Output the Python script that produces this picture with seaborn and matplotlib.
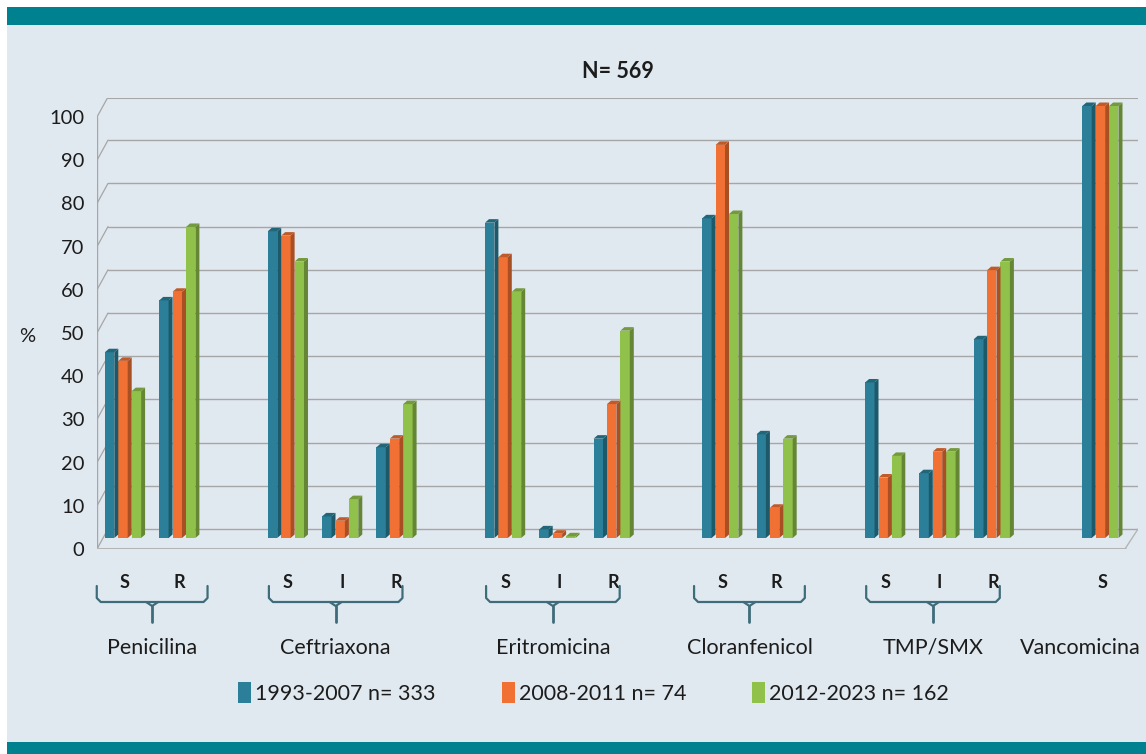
import pandas as pd
import seaborn as sns
import matplotlib.pyplot as plt
from matplotlib.patches import Rectangle, Polygon, Patch
from matplotlib.lines import Line2D
from matplotlib.colors import to_rgb

# antibiotics and their categories (S = sensible, I = intermedio, R = resistente)
antibiotics = ['Penicilina', 'Ceftriaxona', 'Eritromicina',
               'Cloranfenicol', 'TMP/SMX', 'Vancomicina']
categories = [['S', 'R'], ['S', 'I', 'R'], ['S', 'I', 'R'],
              ['S', 'R'], ['S', 'I', 'R'], ['S']]
periods = ['1993-2007 n= 333', '2008-2011 n= 74', '2012-2023 n= 162']

# percentages, in the order of the categories above
p_1993_2007 = [43, 55, 71, 5, 21, 73, 2, 23, 74, 24, 36, 15, 46, 100]
p_2008_2011 = [41, 57, 70, 4, 23, 65, 1, 31, 91, 7, 14, 20, 62, 100]
p_2012_2023 = [34, 72, 64, 9, 31, 57, 0.4, 48, 75, 23, 19, 20, 64, 100]

colors = ['#2b7f98', '#f07133', '#90c14b']
BG = '#e1e9f0'
TEAL = '#00818f'
TXT = '#1c1c1c'
W, H = 1146, 754

sns.set_theme(style='white')
plt.rcParams['font.family'] = ['Lato', 'DejaVu Sans']

# build slot order: one empty slot between antibiotics
order = []
ticklabels = []
rows = []
k = 0
for i, (ab, cats) in enumerate(zip(antibiotics, categories)):
    if i > 0:
        order.append('gap%d' % i)
        ticklabels.append('')
    for c in cats:
        slot = ab + ' ' + c
        order.append(slot)
        ticklabels.append(c)
        for per, vals in zip(periods,
                             [p_1993_2007, p_2008_2011, p_2012_2023]):
            rows.append({'slot': slot, 'period': per, 'pct': vals[k]})
        k += 1
df = pd.DataFrame(rows)

fig = plt.figure(figsize=(W / 100, H / 100), dpi=100)
fig.patch.set_facecolor('white')
# background panel and teal bands
fig.add_artist(Rectangle((7 / W, 0), 1, 1 - 7 / H, transform=fig.transFigure,
                         facecolor=BG, edgecolor='none', zorder=-10))
fig.add_artist(Rectangle((7 / W, 1 - 25 / H), 1, 18 / H,
                         transform=fig.transFigure, facecolor=TEAL,
                         edgecolor='none', zorder=-9))
fig.add_artist(Rectangle((7 / W, 0), 1, 12 / H, transform=fig.transFigure,
                         facecolor=TEAL, edgecolor='none', zorder=-9))

# pixel -> data helpers (slot 0 centred at x=125, value 0 at y=538)
X0, DX = 125, 54.3
Y0, DY = 538, 4.32


def xd(px):
    return (px - X0) / DX


def yd(py):
    return (Y0 - py) / DY


def shade(c, f):
    r, g, b = to_rgb(c)
    return (r * f, g * f, b * f)


ax = fig.add_axes([97 / W, 1 - 549 / H, (1138 - 97) / W, (549 - 98) / H])
ax.set_facecolor('none')

sns.barplot(data=df, x='slot', y='pct', hue='period', order=order,
            hue_order=periods, palette=colors, width=0.74, saturation=1,
            legend=False, ax=ax, zorder=3)

# fake 3-D look: narrower front face, dark side face and top cap
ddx, ddy = 4 / DX, 3.5 / DY
for bars, c in zip(ax.containers, colors):
    for p in bars:
        x, w, h = p.get_x(), p.get_width(), p.get_height()
        wf = w - ddx
        p.set_width(wf)
        p.set_linewidth(0)
        side = Polygon([(x + wf, 0), (x + w, ddy), (x + w, h + ddy),
                        (x + wf, h)], closed=True, facecolor=shade(c, 0.7),
                       edgecolor='none', zorder=3)
        top = Polygon([(x, h), (x + wf, h), (x + w, h + ddy),
                       (x + ddx, h + ddy)], closed=True,
                      facecolor=shade(c, 0.8), edgecolor='none', zorder=3)
        ax.add_patch(side)
        ax.add_patch(top)

ax.set_xlim(xd(97), xd(1138))
ax.set_ylim(yd(549), yd(98))
for s in ax.spines.values():
    s.set_visible(False)

# back-wall gridlines and front axis with diagonal ticks
ticks = list(range(0, 101, 10))
back = 9 / DY
front = -11 / DY
grid_c = '#a6a6a6'
for t in ticks:
    lw = 2.2 if t == 100 else 1.0
    ax.plot([xd(108), xd(1138)], [t + back, t + back], color=grid_c,
            lw=lw, zorder=1)
    ax.plot([xd(97), xd(108)], [t + front, t + back], color=grid_c,
            lw=0.9, zorder=1)
    ax.plot([xd(93), xd(97)], [t + front, t + front], color=grid_c,
            lw=0.9, zorder=1)
ax.plot([xd(97), xd(97)], [front, 100 + front], color=grid_c, lw=1.0)
# floor
ax.plot([xd(97), xd(1125)], [front, front], color='#b5b5b5', lw=2.2,
        zorder=4)
ax.plot([xd(1125), xd(1138)], [front, back], color='#b5b5b5', lw=1.0)

ax.set_yticks([t + front for t in ticks])
ax.set_yticklabels([str(t) for t in ticks], fontsize=14.5, color=TXT)
ax.tick_params(axis='y', length=0, pad=9)
ax.set_xticks(range(len(order)))
ax.set_xticklabels(ticklabels, fontsize=13, fontweight='bold', color=TXT)
ax.tick_params(axis='x', length=0, pad=18)
ax.set_xlabel('')
ax.set_ylabel('')

fig.text(19 / W, 1 - 336 / H, '%', fontsize=14.5, ha='left', va='center',
         color=TXT)
fig.text(618 / W, 1 - 72 / H, 'N= 569', fontsize=15.5, fontweight='bold',
         ha='center', va='center', color=TXT)

# braces under each antibiotic with more than one category
ytop, yend, ymid, ybot = 1 - 586 / H, 1 - 598 / H, 1 - 602 / H, 1 - 622 / H
brace_c = '#3f6c7a'
label_y = 1 - 648 / H
for ab, cats in zip(antibiotics, categories):
    first = order.index(ab + ' ' + cats[0])
    last = order.index(ab + ' ' + cats[-1])
    mid = (first + last) / 2
    if len(cats) == 3:
        mid -= 0.12
        half = 1.23
    else:
        half = 1.02
    left = ax.transData.transform((mid - half, 0))[0] / W
    right = ax.transData.transform((mid + half, 0))[0] / W
    centre = (left + right) / 2
    if len(cats) > 1:
        d = 4 / W
        fig.add_artist(Line2D([left, left, left + d, right - d, right, right],
                              [ytop, yend, ymid, ymid, yend, ytop],
                              color=brace_c, lw=1.6,
                              transform=fig.transFigure))
        fig.add_artist(Line2D([centre - 1.5 * d, centre, centre + 1.5 * d],
                              [ymid, ymid - 4 / H, ymid], color=brace_c,
                              lw=1.6, transform=fig.transFigure))
        fig.add_artist(Line2D([centre, centre], [ymid - 4 / H, ybot],
                              color=brace_c, lw=2.0,
                              transform=fig.transFigure))
    else:
        centre = 1080 / W
    fig.text(centre, label_y, ab, fontsize=15.5, ha='center', va='center',
             color=TXT)

handles = [Patch(facecolor=c, edgecolor='none') for c in colors]
fig.legend(handles, periods, loc='center', bbox_to_anchor=(0.518, 1 - 693 / H),
           ncol=3, frameon=False, fontsize=15.5, handlelength=0.6,
           handleheight=1.1, handletextpad=0.2, columnspacing=3.05,
           labelcolor=TXT)

fig.savefig('out.png', dpi=100, facecolor=fig.get_facecolor())
